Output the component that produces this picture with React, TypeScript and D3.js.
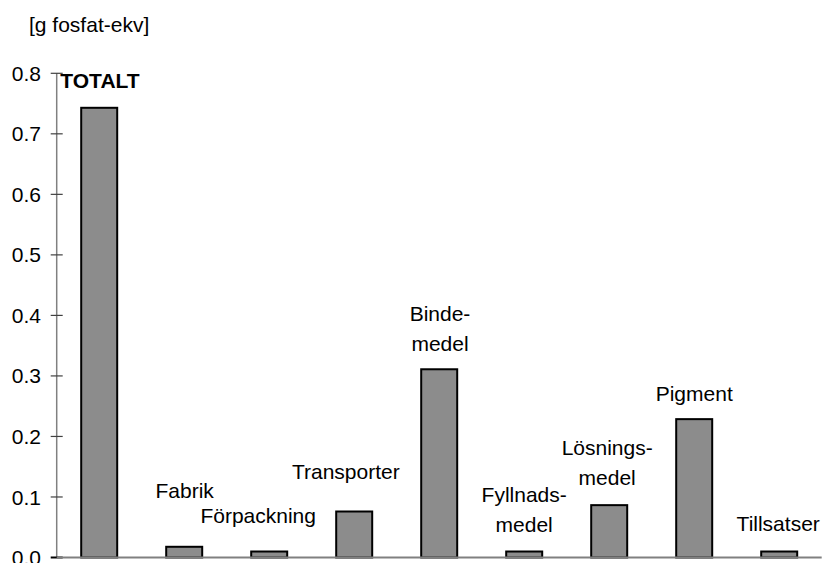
import React from "react";
import * as d3 from "d3";

const categories = ["TOTALT", "Fabrik", "Förpackning", "Transporter", "Bindemedel", "Fyllnadsmedel", "Lösningsmedel", "Pigment", "Tillsatser"];
const values = [0.743, 0.0177, 0.0099, 0.076, 0.311, 0.0099, 0.0865, 0.2286, 0.0099];
const labelLines = [["TOTALT"], ["Fabrik"], ["Förpackning"], ["Transporter"], ["Binde-", "medel"], ["Fyllnads-", "medel"], ["Lösnings-", "medel"], ["Pigment"], ["Tillsatser"]];
const yTicks = [0, 0.1, 0.2, 0.3, 0.4, 0.5, 0.6, 0.7, 0.8];
const yTitle = "[g fosfat-ekv]";

// label placement relative to bar (dx from bar centre, dy of last baseline from bar top)
const labelDx = [0.8, 0.5, -11, -8.4, 0.8, 0, -2, 0, -1];
const labelDy = [-20, -49, -28.7, -32.4, -18.6, -20, -20, -18.6, -21];

const W = 823, H = 563;
const FONT = "'Liberation Sans', Arial, sans-serif";

export default function App() {
  const y = d3.scaleLinear().domain([0, 0.8]).range([557.5, 73.3]);
  const x = d3.scaleBand<string>().domain(categories).range([56.7, 821.7])
    .paddingInner(49 / 85).paddingOuter(49 / 170);
  const fmt = d3.format(".1f");
  const x0 = 56.7;
  const lineH = 30;

  return (
    <svg width={W} height={H} style={{ position: "absolute", left: 0, top: 0, background: "#fff" }} fontFamily={FONT}>
      <text x={29} y={32} fontSize={21} fill="#000">{yTitle}</text>
      {/* y axis */}
      <line x1={x0} x2={x0} y1={y(0.8)} y2={y(0)} stroke="#808080" strokeWidth={1.5} />
      {yTicks.map((t) => (
        <g key={t}>
          <line x1={x0 - 6} x2={x0 + 6} y1={y(t)} y2={y(t)} stroke={t === 0 ? "#000" : "#404040"} strokeWidth={t === 0 ? 2 : 1.2} />
          <text x={41} y={y(t)} dy="0.36em" textAnchor="end" fontSize={21} fill="#000">{fmt(t)}</text>
        </g>
      ))}
      {/* bars */}
      {categories.map((c, i) => (
        <rect key={c} x={x(c)} y={y(values[i])} width={x.bandwidth()} height={y(0) - y(values[i])}
          fill="#8c8c8c" stroke="#000" strokeWidth={2} />
      ))}
      {/* x axis */}
      <line x1={x0} x2={821.7} y1={y(0)} y2={y(0)} stroke="#808080" strokeWidth={2} />
      {/* labels */}
      {categories.map((c, i) => {
        const cx = (x(c) as number) + x.bandwidth() / 2 + labelDx[i];
        const lines = labelLines[i];
        const base = y(values[i]) + labelDy[i];
        return (
          <text key={c} textAnchor="middle" fontSize={21} fontWeight={i === 0 ? "bold" : "normal"} fill="#000">
            {lines.map((l, k) => (
              <tspan key={k} x={cx} y={base - (lines.length - 1 - k) * lineH}>{l}</tspan>
            ))}
          </text>
        );
      })}
    </svg>
  );
}
